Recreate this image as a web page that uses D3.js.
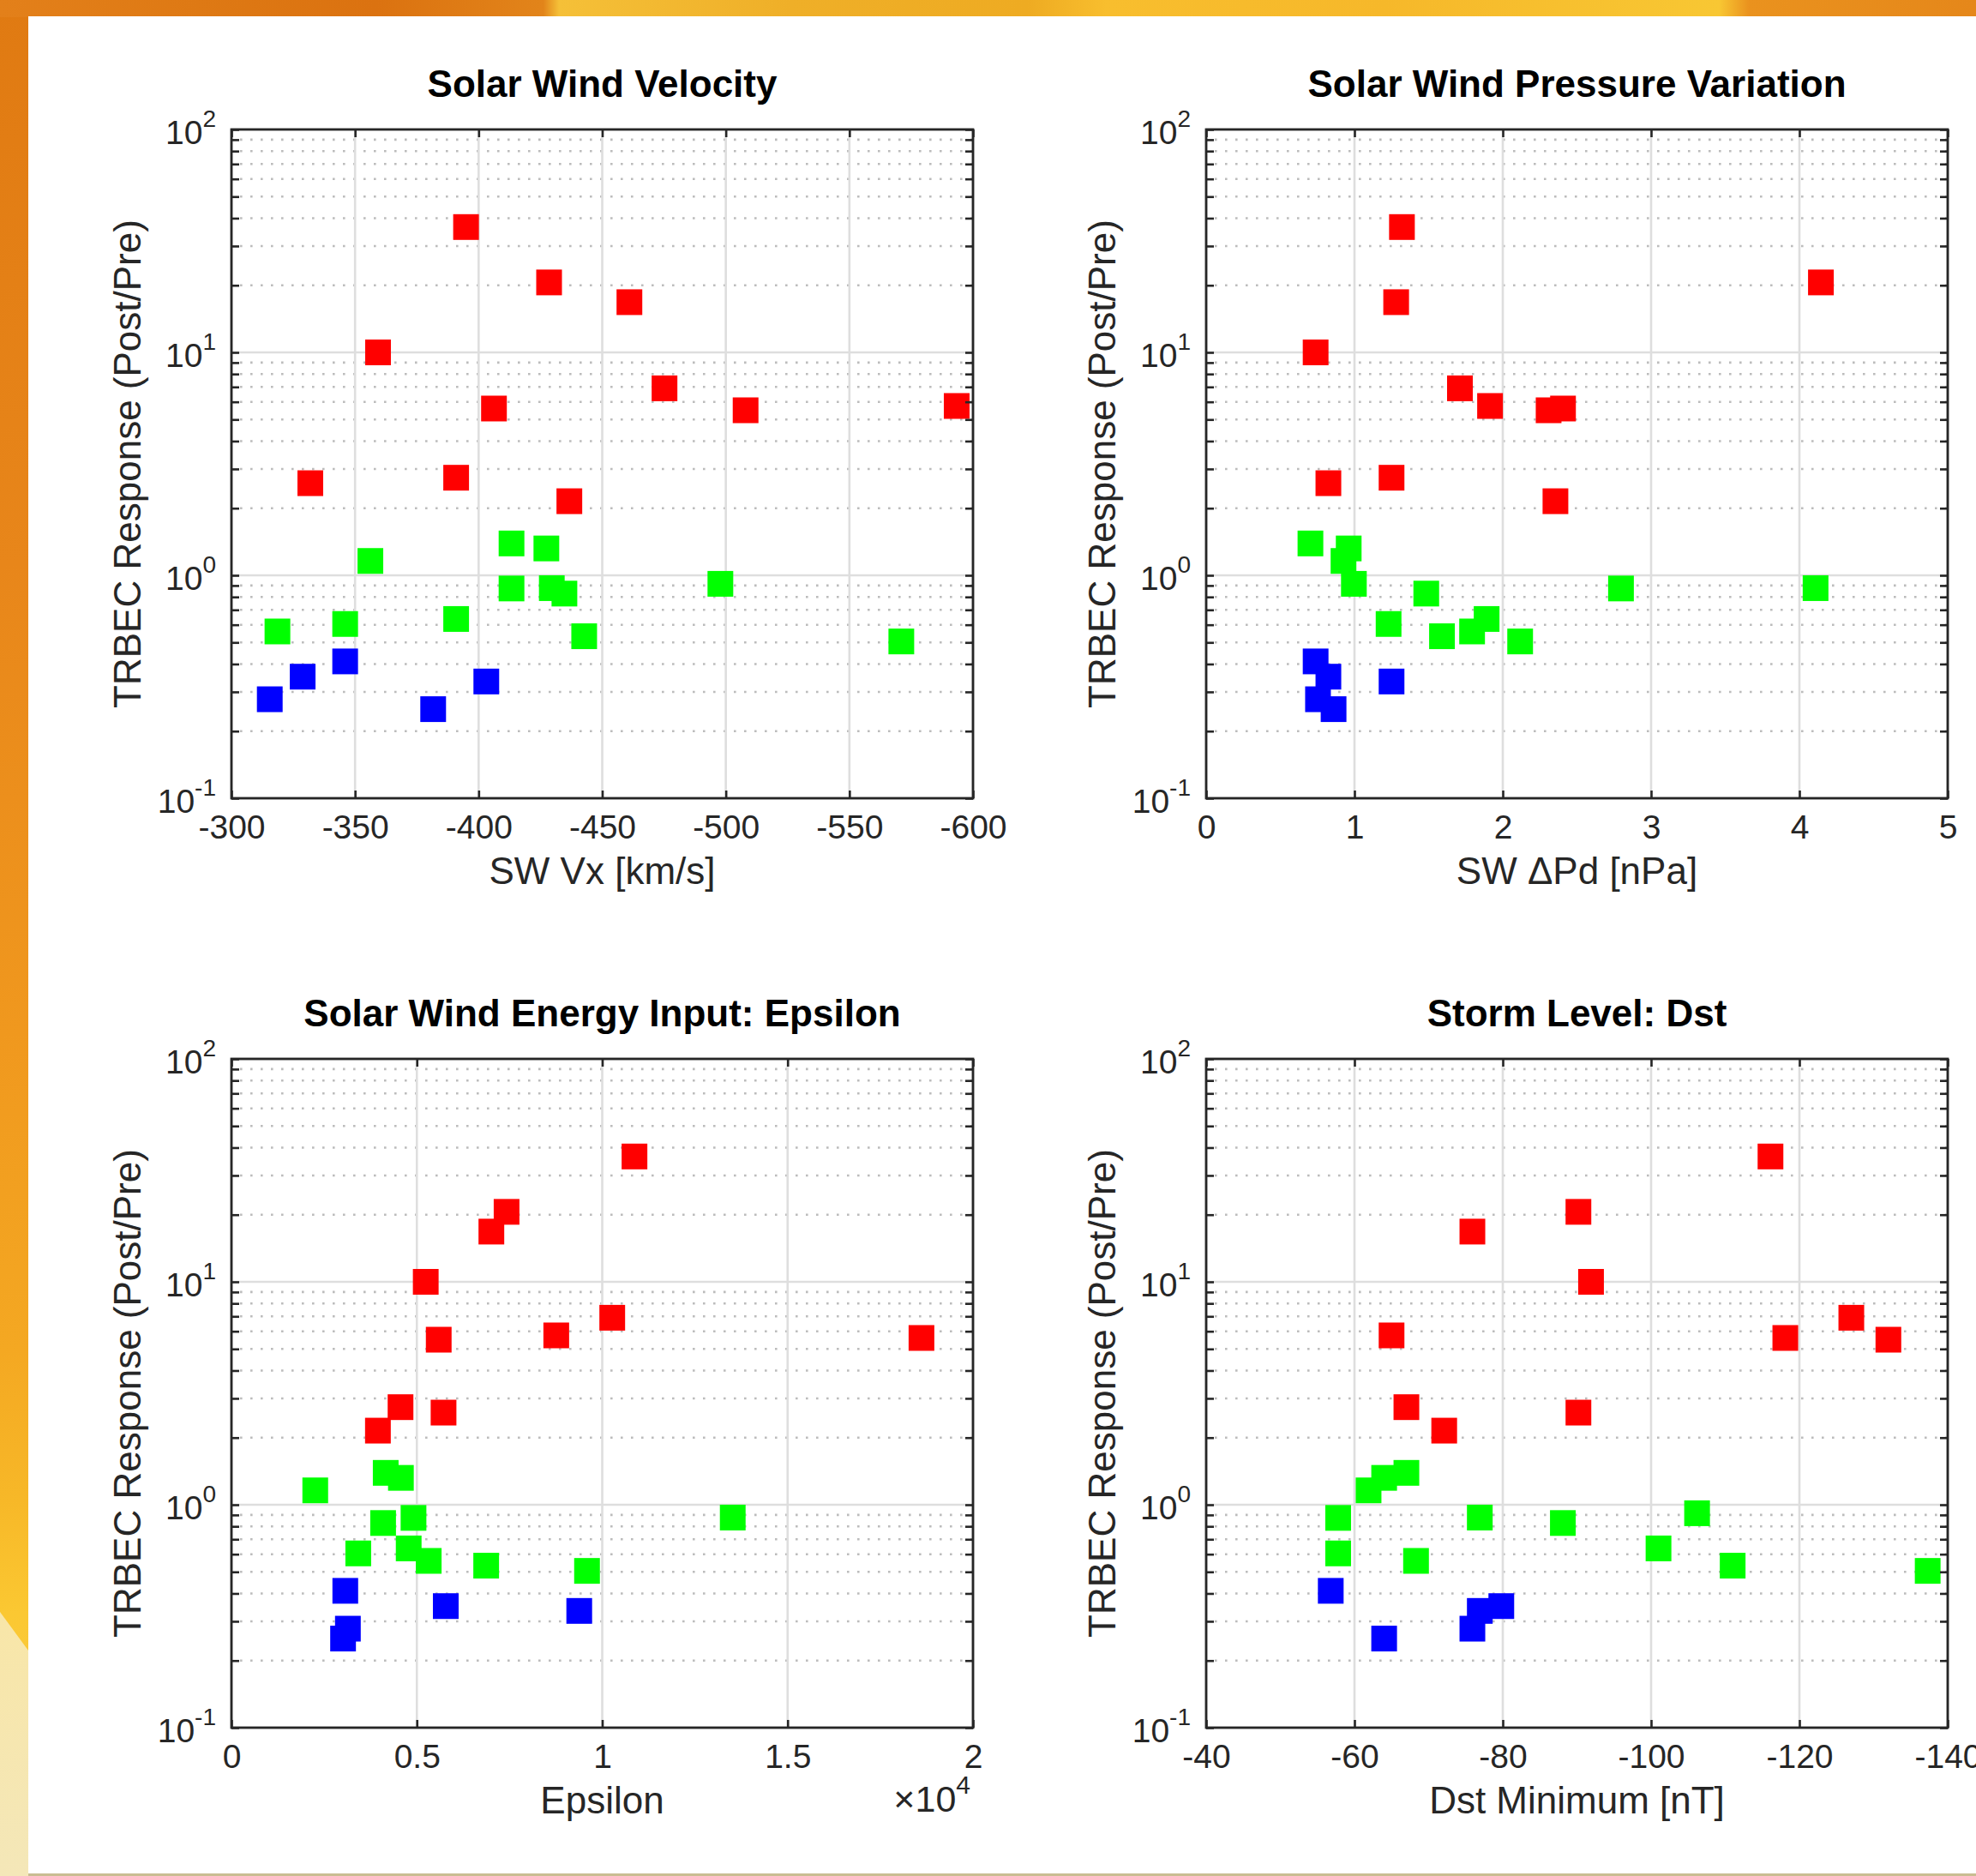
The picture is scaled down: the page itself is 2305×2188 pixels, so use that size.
<!DOCTYPE html>
<html>
<head>
<meta charset="utf-8">
<script src="https://cdn.jsdelivr.net/npm/d3@7"></script>
<style>
html,body{margin:0;padding:0;background:#fff;overflow:hidden}
svg text{font-family:"Liberation Sans",Arial,Helvetica,sans-serif}
</style>
</head>
<body>
<svg id="chart" width="2305" height="2188"></svg>
<script>
// ---------------- DATA ----------------
// One entry per event: 11 red (strong), 12 green (moderate), 5 blue (weak)
const eventGroup = [
  "red","red","red","red","red","red","red","red","red","red","red",
  "green","green","green","green","green","green","green","green","green","green","green","green",
  "blue","blue","blue","blue","blue"
];
const response = [36.5, 20.6, 16.8, 10.0, 6.9, 5.6, 5.5, 5.75, 2.59, 2.74, 2.15,
  1.16, 1.39, 1.32, 0.873, 0.876, 0.828, 0.916, 0.560, 0.605, 0.637, 0.533, 0.505,
  0.278, 0.351, 0.411, 0.251, 0.334];
const swVx = [-394.9, -428.5, -461, -359.3, -475.2, -406.2, -508, -593.4, -331.9, -390.9, -436.7,
  -356.2, -413.3, -427.4, -413.3, -429.6, -434.7, -497.8, -318.6, -346, -390.9, -442.7, -571,
  -315.5, -328.8, -346, -381.6, -403.1];
const swDPd = [1.32, 4.145, 1.281, 0.738, 1.711, 2.406, 2.309, 1.914, 0.824, 1.25, 2.355,
  0.926, 0.703, 0.961, 2.797, 4.109, 1.484, 0.996, 1.793, 1.23, 1.891, 1.59, 2.117,
  0.754, 0.824, 0.738, 0.859, 1.25];
const epsilon = [10870, 7420, 7010, 5240, 10270, 18610, 5590, 8760, 5720, 4560, 3950,
  2260, 4160, 4570, 4910, 13520, 4090, null, 5320, 3420, 4780, 6870, 9590,
  3140, 5780, 3070, 3010, 9380];
const dstMin = [-116.1, -90.2, -75.9, -91.9, -127, -118.1, -132, -65, -90.2, -67, -72.1,
  -61.9, -67, -64, -57.8, -76.9, -88.1, -106.2, -68.3, -57.8, -101, -111, -137.3,
  -75.9, -79.8, -56.8, -64, -76.9];

const groupColors = {red: "#ff0000", green: "#00ff00", blue: "#0000ff"};

const panelTitles = ["Solar Wind Velocity", "Solar Wind Pressure Variation",
  "Solar Wind Energy Input: Epsilon", "Storm Level: Dst"];
const xAxisLabels = ["SW Vx [km/s]", "SW \u0394Pd [nPa]", "Epsilon", "Dst Minimum [nT]"];
const yAxisLabel = "TRBEC Response (Post/Pre)";
const vxTicks = [-300, -350, -400, -450, -500, -550, -600];
const dpdTicks = [0, 1, 2, 3, 4, 5];
const epsTicks = [0, 5000, 10000, 15000, 20000];
const dstTicks = [-40, -60, -80, -100, -120, -140];
const yTickExponents = [-1, 0, 1, 2];
const yDomain = [0.1, 100];

// ---------------- LAYOUT ----------------
const svg = d3.select("#chart");
const FW = 2305, FH = 2188;
const defs = svg.append("defs");

const topGrad = defs.append("linearGradient").attr("id", "topGrad")
  .attr("x1", 0).attr("x2", 1).attr("y1", 0).attr("y2", 0);
[[0, "#e3801a"], [0.1, "#de7914"], [0.19, "#db7210"], [0.275, "#e2841a"], [0.283, "#f5c038"],
 [0.4, "#efaf28"], [0.52, "#eeab22"], [0.56, "#f8be2e"], [0.7, "#f6b82a"], [0.87, "#f8c733"],
 [0.885, "#ea921e"], [1, "#e5871a"]]
  .forEach(s => topGrad.append("stop").attr("offset", s[0]).attr("stop-color", s[1]));

const leftGrad = defs.append("linearGradient").attr("id", "leftGrad")
  .attr("x1", 0).attr("x2", 0).attr("y1", 0).attr("y2", 1);
[[0, "#e07a12"], [0.3, "#e8861a"], [0.55, "#f0981e"], [0.72, "#f4a822"], [0.8, "#f7b828"],
 [0.86, "#fbc832"], [1, "#f6cf50"]]
  .forEach(s => leftGrad.append("stop").attr("offset", s[0]).attr("stop-color", s[1]));

const paleGrad = defs.append("linearGradient").attr("id", "paleGrad")
  .attr("x1", 0).attr("x2", 0).attr("y1", 0).attr("y2", 1);
[[0, "#f8e6a8"], [1, "#f4e7b8"]]
  .forEach(s => paleGrad.append("stop").attr("offset", s[0]).attr("stop-color", s[1]));

svg.append("rect").attr("width", FW).attr("height", FH).attr("fill", "url(#leftGrad)");
svg.append("rect").attr("width", FW).attr("height", 20).attr("fill", "url(#topGrad)");
svg.append("path").attr("d", "M0,1880 L33,1925 L33,2188 L0,2188 Z").attr("fill", "url(#paleGrad)");
svg.append("rect").attr("x", 33).attr("y", 19).attr("width", FW - 33).attr("height", 2166).attr("fill", "#ffffff");
svg.append("rect").attr("x", 33).attr("y", 2185).attr("width", FW - 33).attr("height", 3).attr("fill", "#c9bd92");

const W = 865, H = 780;
const axisColor = "#262626";
const panels = [
  {xv: swVx, ticks: vxTicks, domain: [-300, -600], fmt: d => String(d), left: 270, top: 151},
  {xv: swDPd, ticks: dpdTicks, domain: [0, 5], fmt: d => String(d), left: 1407, top: 151},
  {xv: epsilon, ticks: epsTicks, domain: [0, 20000], fmt: d => String(d / 10000), left: 270, top: 1235, exp: 4},
  {xv: dstMin, ticks: dstTicks, domain: [-40, -140], fmt: d => String(d), left: 1407, top: 1235}
];

panels.forEach((p, pi) => {
  const g = svg.append("g").attr("transform", `translate(${p.left},${p.top})`);
  const x = d3.scaleLinear().domain(p.domain).range([0, W]);
  const y = d3.scaleLog().domain(yDomain).range([H, 0]);
  const majorY = yTickExponents.map(e => Math.pow(10, e));
  const minorY = y.ticks().filter(v => Math.abs(Math.log10(v) - Math.round(Math.log10(v))) > 1e-9);

  // minor grid (dotted)
  g.append("g").selectAll("line").data(minorY).join("line")
    .attr("x1", 0).attr("x2", W).attr("y1", d => y(d)).attr("y2", d => y(d))
    .attr("stroke", "#bcbcbc").attr("stroke-width", 2.6)
    .attr("stroke-dasharray", "2.6 9.4").attr("stroke-dashoffset", -10);
  // major grid
  g.append("g").selectAll("line").data(p.ticks).join("line")
    .attr("x1", d => x(d)).attr("x2", d => x(d)).attr("y1", 0).attr("y2", H)
    .attr("stroke", "#dedede").attr("stroke-width", 2.6);
  g.append("g").selectAll("line").data(majorY).join("line")
    .attr("x1", 0).attr("x2", W).attr("y1", d => y(d)).attr("y2", d => y(d))
    .attr("stroke", "#dedede").attr("stroke-width", 2.6);

  // markers
  const pts = response.map((r, i) => ({r, v: p.xv[i], c: eventGroup[i]}))
    .filter(d => d.v !== null && d.v !== undefined);
  const S = 30;
  g.append("g").selectAll("rect").data(pts).join("rect")
    .attr("x", d => x(d.v) - S / 2).attr("y", d => y(d.r) - S / 2)
    .attr("width", S).attr("height", S)
    .attr("fill", d => groupColors[d.c]);

  // axes ticks
  const styleAxis = sel => {
    sel.select(".domain").remove();
    sel.selectAll(".tick line").attr("stroke", axisColor).attr("stroke-width", 2.6);
    sel.selectAll(".tick text").attr("fill", axisColor).attr("font-size", 39)
      .attr("font-family", "Liberation Sans, Arial, sans-serif");
  };
  g.append("g").attr("transform", `translate(0,${H})`)
    .call(d3.axisBottom(x).tickValues(p.ticks).tickSize(-9).tickSizeOuter(0).tickPadding(19).tickFormat(p.fmt))
    .call(styleAxis);
  g.append("g")
    .call(d3.axisTop(x).tickValues(p.ticks).tickSize(-9).tickSizeOuter(0).tickFormat(""))
    .call(styleAxis);
  g.append("g")
    .call(d3.axisLeft(y).tickValues(majorY.concat(minorY)).tickSize(-9).tickSizeOuter(0).tickFormat(""))
    .call(styleAxis);
  g.append("g").attr("transform", `translate(${W},0)`)
    .call(d3.axisRight(y).tickValues(majorY.concat(minorY)).tickSize(-9).tickSizeOuter(0).tickFormat(""))
    .call(styleAxis);

  // y tick labels 10^n
  yTickExponents.forEach(e => {
    const t = g.append("text").attr("x", -18).attr("y", y(Math.pow(10, e)) + 17)
      .attr("text-anchor", "end").attr("fill", axisColor).attr("font-size", 39);
    t.append("tspan").text("10");
    t.append("tspan").attr("dy", -20).attr("font-size", 28).text(String(e));
  });

  // box
  g.append("rect").attr("x", 0).attr("y", 0).attr("width", W).attr("height", H)
    .attr("fill", "none").attr("stroke", axisColor).attr("stroke-width", 2.8);

  // exponent label
  if (p.exp) {
    const t = g.append("text").attr("x", W - 3).attr("y", H + 98)
      .attr("text-anchor", "end").attr("fill", axisColor).attr("font-size", 43);
    t.append("tspan").text("\u00d710");
    t.append("tspan").attr("dy", -21).attr("font-size", 30).text(String(p.exp));
  }

  // axis labels
  g.append("text").attr("x", W / 2).attr("y", H + 100).attr("text-anchor", "middle")
    .attr("fill", axisColor).attr("font-size", 44).text(xAxisLabels[pi]);
  g.append("text").attr("transform", `translate(-106,${H / 2}) rotate(-90)`)
    .attr("text-anchor", "middle").attr("fill", axisColor).attr("font-size", 44).text(yAxisLabel);
  // title
  g.append("text").attr("x", W / 2).attr("y", -38).attr("text-anchor", "middle")
    .attr("fill", "#000").attr("font-size", 44).attr("font-weight", "bold").text(panelTitles[pi]);
});
</script>
</body>
</html>
